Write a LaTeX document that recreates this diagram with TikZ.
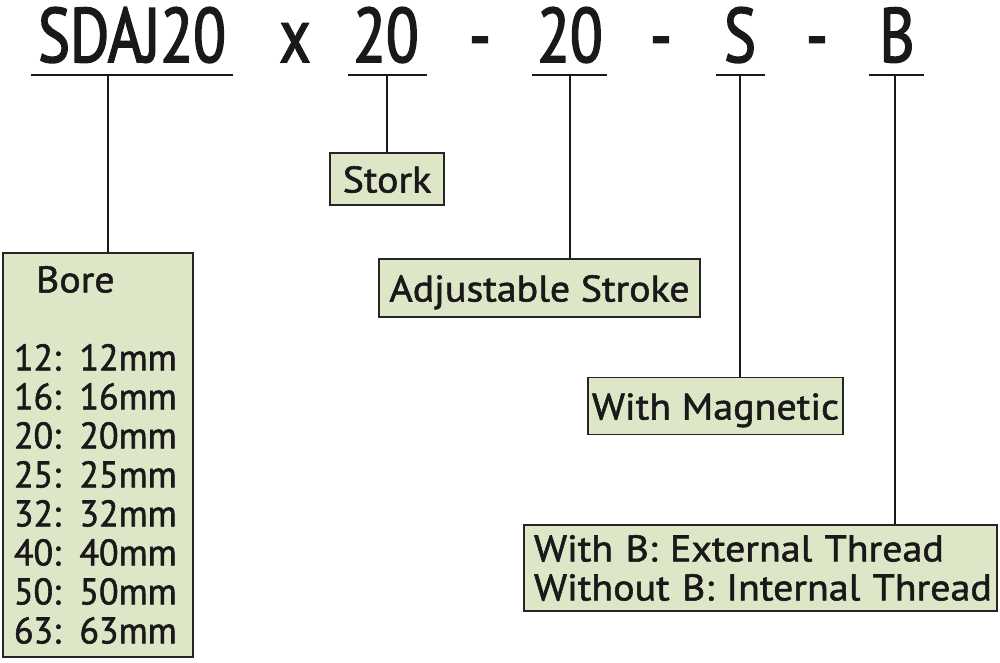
\documentclass[tikz,border=0pt]{standalone}
\usepackage{fontspec}
\setmainfont[FakeStretch=1.08, FakeBold=1.5]{PT Sans}
\newfontfamily\codefont[FakeStretch=0.78, FakeBold=2]{PT Sans}
\newfontfamily\medidas[FakeStretch=0.97, FakeBold=1.5]{PT Sans}
\definecolor{verdeclaro}{HTML}{DDE6C6}
\begin{document}
\begin{tikzpicture}[x=1pt, y=-1pt,
			every node/.style={font=\fontsize{37}{39}\selectfont, text=black!90},
			codigo/.style={font=\codefont\fontsize{77}{80}\selectfont, anchor=base, inner sep=0pt},
			caja/.style={draw=black!85, line width=1.8pt, fill=verdeclaro, inner sep=0pt},
			linea/.style={draw=black!90, line width=1.8pt}]
		\path[use as bounding box, fill=white] (0,0) rectangle (1000,662);
		% codigo del modelo
		\node[codigo] (sdaj)  at (132,62) {SDAJ20};
		\node[codigo] (por)   at (295,62) {x};
		\node[codigo] (carr)  at (386,62) {20};
		\node[codigo] (guion1) at (480,62) {-};
		\node[codigo] (ajus)  at (570,62) {20};
		\node[codigo] (guion2) at (661,62) {-};
		\node[codigo] (mag)   at (740,62) {S};
		\node[codigo] (guion3) at (817,62) {-};
		\node[codigo] (rosca) at (897,62) {B};
		\draw[linea] (31,75) -- (233,75);
		\draw[linea] (348,75) -- (427,75);
		\draw[linea] (532,75) -- (607,75);
		\draw[linea] (716,75) -- (765,75);
		\draw[linea] (869,75) -- (924,75);
		\coordinate (tSdaj)  at (108,75);
		\coordinate (tCarr)  at (387,75);
		\coordinate (tAjus)  at (570,75);
		\coordinate (tMag)   at (740,75);
		\coordinate (tRosca) at (895,75);
		% cajas
		\node[caja, minimum width=190, minimum height=404, text width=168, inner xsep=11, align=left] (bore) at (98,455)
			{\hspace*{22pt}Bore\\[39pt]\medidas 12: 12mm\\16: 16mm\\20: 20mm\\25: 25mm\\32: 32mm\\40: 40mm\\50: 50mm\\63: 63mm};
		\node[caja, minimum width=114, minimum height=52, text height=27, text depth=0] (stork) at (387,179) {Stork};
		\node[caja, minimum width=321, minimum height=58, text height=27, text depth=0] (stroke) at (539.5,288) {Adjustable Stroke};
		\node[caja, minimum width=255, minimum height=57, text height=27, text depth=0] (magnetic) at (715.5,406) {With Magnetic};
		\node[caja, minimum width=473, minimum height=86, text width=465, inner xsep=4, align=left] (thread) at (760.5,568)
			{\hspace*{6pt}\mbox{With B: External Thread}\\\hspace*{6pt}\mbox{Without B: Internal Thread}};
		% conectores
		\draw[linea] (tSdaj) -- (tSdaj |- bore.north);
		\draw[linea] (tCarr) -- (tCarr |- stork.north);
		\draw[linea] (tAjus) -- (tAjus |- stroke.north);
		\draw[linea] (tMag) -- (tMag |- magnetic.north);
		\draw[linea] (tRosca) -- (tRosca |- thread.north);
	\end{tikzpicture}
\end{document}
